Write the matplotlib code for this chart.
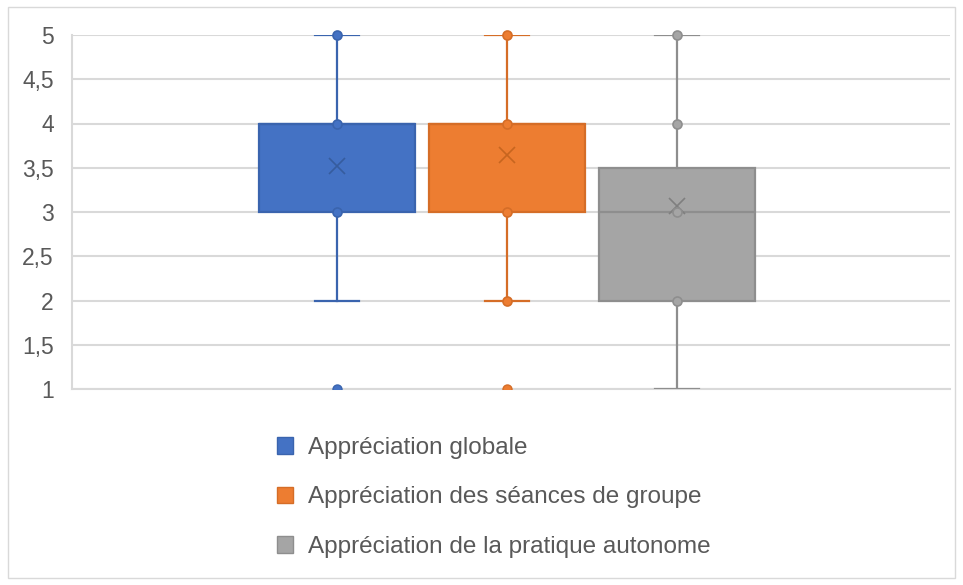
import matplotlib
matplotlib.use("Agg")
import matplotlib.pyplot as plt
from matplotlib.patches import Patch, Rectangle

plt.rcParams['font.family'] = ['Liberation Sans', 'DejaVu Sans']

series = ["Appréciation globale", "Appréciation des séances de groupe", "Appréciation de la pratique autonome"]
colors = ["#4472C4", "#ED7D31", "#A5A5A5"]
edge_colors = ["#3A64AE", "#D56D27", "#8E8E8E"]
mean_colors = ["#365C9E", "#C7651F", "#7F7F7F"]

whisker_low = [2, 2, 1]
q1 = [3, 3, 2]
median = [4, 4, 3]
q3 = [4, 4, 3.5]
whisker_high = [5, 5, 5]
means = [3.52, 3.64, 3.07]
outliers = [[1], [1], []]
inner_points = [[3, 4, 5], [2, 3, 4, 5], [2, 3, 4, 5]]

yticks = [1, 1.5, 2, 2.5, 3, 3.5, 4, 4.5, 5]
ytick_labels = ["1", "1,5", "2", "2,5", "3", "3,5", "4", "4,5", "5"]

fig = plt.figure(figsize=(9.63, 5.85), dpi=100)
fig.patches.append(Rectangle((8/963, 7/585), 947/963, 571/585, transform=fig.transFigure,
                             fill=False, edgecolor="#D9D9D9", linewidth=1))
ax = fig.add_axes([72/963, 1-389/585, 878/963, 354/585])

positions = [1, 2, 3]
for i in range(3):
    st = dict(med=median[i], q1=q1[i], q3=q3[i], whislo=whisker_low[i], whishi=whisker_high[i],
              mean=means[i], fliers=outliers[i], label=series[i])
    ax.bxp([st], positions=[positions[i]], widths=0.912, capwidths=0.259,
           patch_artist=True, showmeans=True, showfliers=True,
           boxprops=dict(facecolor=colors[i], edgecolor=edge_colors[i], linewidth=1.6),
           medianprops=dict(color=edge_colors[i], linewidth=1.6),
           whiskerprops=dict(color=edge_colors[i], linewidth=1.6),
           capprops=dict(color=edge_colors[i], linewidth=1.6),
           meanprops=dict(marker='x', markeredgecolor=mean_colors[i], markersize=12, markeredgewidth=1.2),
           flierprops=dict(marker='o', markerfacecolor=colors[i], markeredgecolor=edge_colors[i], markersize=6.5),
           zorder=3)
    ax.scatter([positions[i]] * len(inner_points[i]), inner_points[i], s=42,
               facecolor=colors[i], edgecolor=edge_colors[i], linewidth=1.2, zorder=5, clip_on=False)

ax.set_xlim(-0.559, 4.606)
ax.set_ylim(1, 5)
ax.set_yticks(yticks)
ax.set_yticklabels(ytick_labels)
ax.set_xticks([])
ax.tick_params(axis='y', length=0, pad=13, labelsize=16.5, labelcolor="#595959")
ax.grid(axis='y', color="#D9D9D9", linewidth=1.5, zorder=0)
ax.set_axisbelow(True)
for s in ["top", "right"]:
    ax.spines[s].set_visible(False)
ax.spines["left"].set_color("#D9D9D9")
ax.spines["left"].set_linewidth(1.5)
ax.spines["bottom"].set_color("#D9D9D9")
ax.spines["bottom"].set_linewidth(1.5)

handles = [Patch(facecolor=colors[i], edgecolor=edge_colors[i], linewidth=1) for i in range(3)]
fig.legend(handles, series, loc='center left', bbox_to_anchor=(277/963, 1-497.5/585),
           frameon=False, fontsize=17.5, labelcolor="#595959", handlelength=0.66, handleheight=0.66,
           handletextpad=0.62, labelspacing=1.13, borderpad=0, borderaxespad=0)

fig.savefig("out.png", dpi=100, facecolor="white")
